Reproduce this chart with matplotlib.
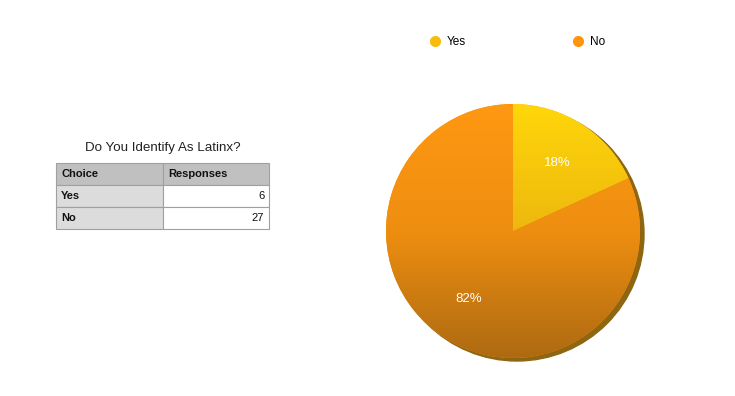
import matplotlib.pyplot as plt
import numpy as np
from matplotlib.colors import LinearSegmentedColormap
from matplotlib.patches import Circle
from matplotlib.lines import Line2D

plt.rcParams['font.family'] = ['Liberation Sans', 'DejaVu Sans']

choices = ['Yes', 'No']
responses = [6, 27]
title = 'Do You Identify As Latinx?'
col_labels = ['Choice', 'Responses']

top_colors = ['#FFD60A', '#FF9812']
mid_colors = ['#EDB80E', '#EE8E10']
bottom_colors = ['#D6A316', '#AE6A12']
legend_colors = ['#F7BC0C', '#FF9410']

W, H = 735, 396
fig = plt.figure(figsize=(7.35, 3.96), dpi=100)
ax = fig.add_axes([0, 0, 1, 1])

# pie with a darker rim behind it (fake 3d edge)
cx, cy, r = 513, 165, 127
ax.add_patch(Circle((cx + 4, cy - 3), r, color='#8E6612', zorder=1))
wedges, texts, autotexts = ax.pie(responses, center=(cx, cy), radius=r,
                                  startangle=90, counterclock=False,
                                  colors=legend_colors, autopct='%1.0f%%',
                                  pctdistance=0.64, frame=True,
                                  textprops=dict(color='white', fontsize=9.5))

# vertical gradient fill, clipped to each wedge
grad = np.linspace(0, 1, 256).reshape(-1, 1)
for w, top, mid, bot in zip(wedges, top_colors, mid_colors, bottom_colors):
    w.set_zorder(2)
    cmap = LinearSegmentedColormap.from_list('g', [bot, mid, top])
    im = ax.imshow(grad, cmap=cmap, origin='lower', aspect='auto',
                   extent=(cx - r, cx + r, cy - r, cy + r), zorder=3)
    im.set_clip_path(w)
for t in autotexts:
    t.set_zorder(5)

ax.set_xlim(0, W)
ax.set_ylim(0, H)
ax.set_aspect('equal')
ax.axis('off')

# table on the left
ax.text(163, H - 148, title, ha='center', va='center', fontsize=9.6, color='#222222')
cell_text = [[c, str(v)] for c, v in zip(choices, responses)]
tbl = ax.table(cellText=cell_text, colLabels=col_labels,
               colWidths=[0.5, 0.5],
               bbox=[56 / W, (H - 229) / H, 213 / W, 66 / H])
tbl.auto_set_font_size(False)
for (row, col), cell in tbl.get_celld().items():
    cell.set_edgecolor('#A0A0A0')
    cell.set_linewidth(0.8)
    txt = cell.get_text()
    txt.set_fontsize(8)
    txt.set_color('#111111')
    cell.PAD = 0.05
    if row == 0:
        cell.set_facecolor('#C0C0C0')
        txt.set_fontweight('bold')
        cell.set_text_props(ha='left')
    elif col == 0:
        cell.set_facecolor('#DCDCDC')
        txt.set_fontweight('bold')
        cell.set_text_props(ha='left')
    else:
        cell.set_facecolor('white')
        cell.set_text_props(ha='right')
        cell.PAD = 0.045

# legend at top
handles = [Line2D([], [], marker='o', linestyle='', markersize=7,
                  markerfacecolor=c, markeredgecolor=c) for c in legend_colors]
ax.legend(handles, choices, loc='center', bbox_to_anchor=(518 / W, 1 - 42 / H),
          ncol=2, frameon=False, fontsize=8.5, handlelength=0.8,
          handletextpad=0.6, columnspacing=9.1)

fig.savefig('out.png', dpi=100)
